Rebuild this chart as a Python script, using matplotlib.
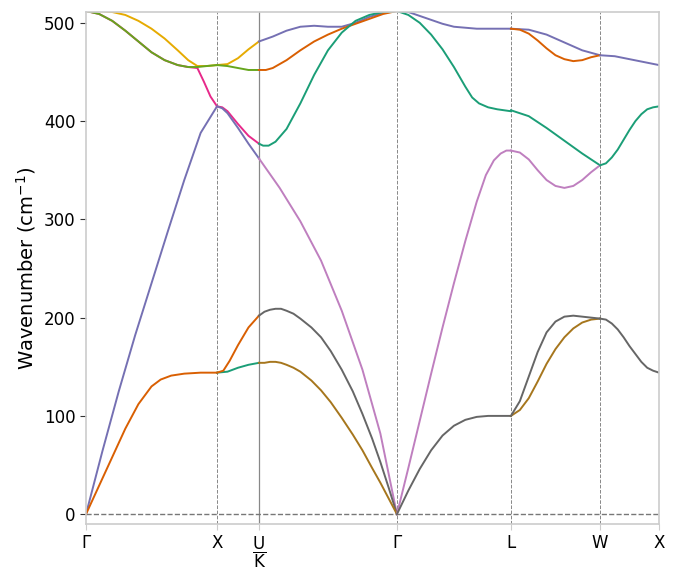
import matplotlib
matplotlib.use("Agg")
import matplotlib.pyplot as plt
import numpy as np

# high-symmetry path, segment lengths (relative)
labels = ["Γ", "X", r"$\dfrac{\mathrm{U}}{\mathrm{K}}$", "Γ", "L", "W", "X"]
seg_len = [1.0, 0.32, 1.053, 0.87, 0.68, 0.45]
breaks = [1, 3, 4, 5]  # dashed lines; index 2 is the U|K jump (solid)

C_TEAL, C_OR, C_PUR, C_PINK = "#1b9e77", "#d95f02", "#7570b3", "#e7298a"
C_GRN, C_YEL, C_BRN, C_GRY, C_LAV = "#66a61e", "#e6ab02", "#a6761d", "#666666", "#bf7fbf"

# per segment: list of (colour, fractions along segment, wavenumbers)
seg0 = [
    (C_YEL, [0, .1, .2, .3, .4, .5, .6, .7, .78, .85, .92, 1],
     [512, 512, 511, 508, 502, 494, 484, 472, 462, 456, 456, 457]),
    (C_PINK, [0, .1, .2, .3, .4, .5, .6, .7, .78, .85, .9, .95, 1],
     [512, 509, 502, 492, 481, 470, 462, 457, 455, 454, 440, 425, 415]),
    (C_GRN, [0, .1, .2, .3, .4, .5, .6, .7, .78, .85, .92, 1],
     [512, 509, 502, 492, 481, 470, 462, 457, 455, 455, 456, 457]),
    (C_PUR, [0, .125, .25, .375, .5, .625, .75, .875, 1],
     [0, 64, 125, 182, 235, 288, 340, 388, 415]),
    (C_OR, [0, .1, .2, .3, .4, .5, .57, .65, .75, .875, 1],
     [0, 29, 58, 87, 112, 130, 137, 141, 143, 144, 144]),
]
seg1 = [
    (C_YEL, [0, .25, .5, .75, 1], [457, 458, 464, 473, 481]),
    (C_GRN, [0, .25, .5, .75, 1], [457, 456, 454, 452, 452]),
    (C_PINK, [0, .125, .25, .5, .75, 1], [415, 414, 410, 397, 385, 377]),
    (C_PUR, [0, .125, .25, .5, .75, 1], [415, 413, 408, 393, 377, 362]),
    (C_TEAL, [0, .25, .5, .75, 1], [144, 145, 149, 152, 154]),
    (C_OR, [0, .15, .3, .5, .75, 1], [144, 146, 156, 172, 190, 202]),
]
seg2 = [
    (C_PUR, [0, .1, .2, .3, .4, .5, .6, .7, .8, .9, 1],
     [481, 486, 492, 496, 497, 496, 496, 500, 506, 510, 512]),
    (C_OR, [0, .05, .1, .2, .3, .4, .5, .6, .7, .8, .9, 1],
     [452, 452, 454, 462, 472, 481, 488, 494, 499, 504, 509, 512]),
    (C_TEAL, [0, .03, .07, .12, .2, .3, .4, .5, .6, .7, .8, .9, 1],
     [377, 375, 375, 379, 392, 418, 447, 472, 490, 502, 508, 511, 512]),
    (C_LAV, [0, .15, .3, .45, .6, .75, .88, 1], [362, 332, 298, 258, 207, 147, 82, 0]),
    (C_GRY, [0, .04, .08, .12, .16, .2, .25, .3, .38, .45, .52, .6, .68, .75, .82, .88, .94, 1],
     [202, 206, 208, 209, 209, 207, 204, 199, 190, 180, 166, 147, 125, 102, 77, 53, 27, 0]),
    (C_BRN, [0, .04, .08, .12, .16, .2, .25, .3, .38, .45, .52, .6, .68, .75, .82, .88, .94, 1],
     [154, 154, 155, 155, 154, 152, 149, 145, 136, 126, 114, 98, 81, 65, 47, 32, 16, 0]),
]
seg3 = [
    (C_PUR, [0, .1, .2, .3, .4, .5, .6, .7, .8, .9, 1],
     [512, 511, 507, 503, 499, 496, 495, 494, 494, 494, 494]),
    (C_TEAL, [0, .1, .2, .3, .4, .5, .6, .66, .72, .8, .88, .94, 1],
     [512, 508, 500, 488, 473, 455, 435, 424, 418, 414, 412, 411, 410]),
    (C_LAV, [0, .1, .2, .3, .4, .5, .6, .7, .78, .85, .91, .96, 1],
     [0, 47, 95, 143, 190, 235, 278, 318, 345, 360, 367, 370, 370]),
    (C_GRY, [0, .1, .2, .3, .4, .5, .6, .7, .8, .9, 1],
     [0, 24, 46, 65, 80, 90, 96, 99, 100, 100, 100]),
]
seg4 = [
    (C_PUR, [0, .2, .4, .6, .8, 1], [494, 493, 488, 480, 472, 467]),
    (C_OR, [0, .1, .2, .3, .4, .5, .6, .7, .8, .9, 1],
     [494, 493, 489, 482, 474, 467, 463, 461, 462, 465, 467]),
    (C_TEAL, [0, .2, .4, .6, .8, 1], [411, 405, 393, 380, 367, 355]),
    (C_LAV, [0, .1, .2, .3, .4, .5, .6, .7, .8, .9, 1],
     [370, 368, 361, 350, 340, 334, 332, 334, 340, 348, 355]),
    (C_BRN, [0, .1, .2, .3, .4, .5, .6, .7, .8, .9, 1],
     [100, 106, 118, 135, 153, 168, 180, 189, 195, 198, 199]),
    (C_GRY, [0, .1, .2, .3, .4, .5, .6, .7, .8, .9, 1],
     [100, 115, 140, 165, 185, 196, 201, 202, 201, 200, 199]),
]
seg5 = [
    (C_PUR, [0, .25, .5, .75, 1], [467, 466, 463, 460, 457]),
    (C_TEAL, [0, .1, .2, .3, .4, .5, .6, .7, .8, .9, 1],
     [355, 357, 363, 371, 381, 391, 400, 407, 412, 414, 415]),
    (C_GRY, [0, .1, .2, .3, .4, .5, .6, .7, .8, .9, 1],
     [199, 198, 194, 188, 180, 171, 163, 155, 149, 146, 144]),
]
segments = [seg0, seg1, seg2, seg3, seg4, seg5]

plt.rcParams["font.family"] = ["DejaVu Sans"]
plt.rcParams["mathtext.fontset"] = "dejavusans"
fig = plt.figure(figsize=(6.76, 5.76), dpi=100)
ax = fig.add_axes([86 / 676, 52 / 576, 573 / 676, 512 / 576])

starts = np.concatenate([[0], np.cumsum(seg_len)])
for i, seg in enumerate(segments):
    for col, t, w in seg:
        x = starts[i] + np.array(t) * seg_len[i]
        ax.plot(x, w, color=col, lw=1.4, solid_joinstyle="round")

for k in breaks:
    ax.axvline(starts[k], color="#888888", lw=0.7, ls="--", zorder=0)
ax.axvline(starts[2], color="#888888", lw=0.9, zorder=0)
ax.axhline(0, color="#777777", lw=1.0, ls="--", zorder=0)

ax.set_xlim(starts[0], starts[-1])
ax.set_ylim(-10, 511)
ax.set_xticks(starts)
ax.set_xticklabels(labels, fontsize=12)
ax.set_yticks([0, 100, 200, 300, 400, 500])
ax.tick_params(axis="y", labelsize=12, length=4, color="#333333")
ax.tick_params(axis="x", length=4, color="#cccccc")
ax.set_ylabel(r"Wavenumber (cm$^{-1}$)", fontsize=14)
for s in ax.spines.values():
    s.set_color("#cccccc")
    s.set_linewidth(1.2)

fig.savefig("out.png", dpi=100)
